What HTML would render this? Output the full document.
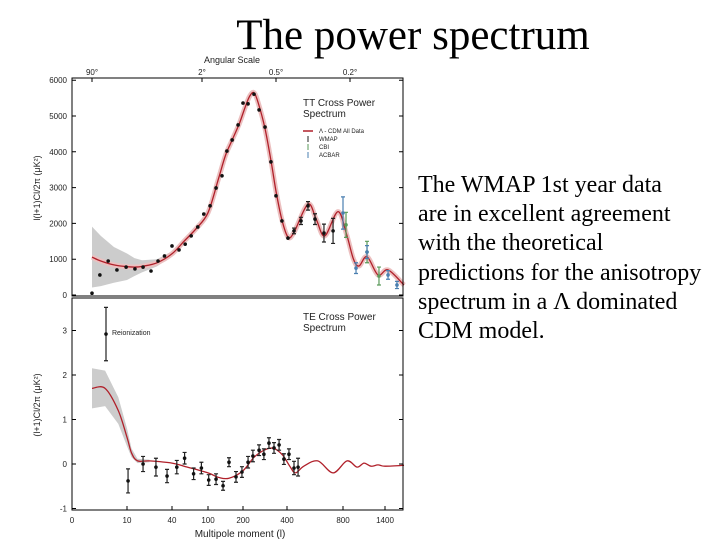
<!DOCTYPE html>
<html><head><meta charset="utf-8">
<style>
html,body{margin:0;padding:0;background:#fff;}
body{width:720px;height:540px;position:relative;overflow:hidden;font-family:"Liberation Serif",serif;}
#title{position:absolute;left:0;width:826px;top:10px;text-align:center;font-size:43px;line-height:52px;color:#000;}
#desc{position:absolute;left:418px;top:171px;font-size:24px;line-height:29.2px;color:#000;white-space:nowrap;}
svg{position:absolute;left:0;top:0;}
svg text{font-family:"Liberation Sans",sans-serif;}
</style></head><body>
<div id="title">The power spectrum</div>
<div id="desc">The WMAP 1st year data<br>are in excellent agreement<br>with the theoretical<br>predictions for the anisotropy<br>spectrum in a Λ dominated<br>CDM model.</div>
<svg id="chart" width="720" height="540"></svg>
<script>
// x-axis knots (multipole l) shared by both panels
const lKnots=[0,2,10,40,100,200,400,800,1400,1600];
const xTicks=[0,10,40,100,200,400,800,1400];
const angTicks=['90°','2°','0.5°','0.2°'];
const angL=[2,90,350,900];
// TT panel
const ttTicks=[0,1000,2000,3000,4000,5000,6000];
const ttModelL=[2,4,7,10,15,20,30,40,60,80,100,130,150,170,190,210,230,250,270,300,330,350,377,407,450,550,610,670,764,850,950,1029,1143,1300,1432,1600];
const ttModelV=[1060,950,840,790,780,800,900,1150,1500,1850,2300,3250,3900,4350,4800,5250,5550,5650,5350,4650,3650,2900,2100,1620,1750,2540,2100,1650,2330,1700,1000,810,1070,560,700,280];
const ttBandL=[2,4,7,10,15,20,30,40,60];
const ttBandE=[850,700,500,370,250,170,100,70,50];
const wmapL=[2,3.8,5.7,7.7,9.8,15.3,20.7,26,30.7,35,40,51.7,62,72,83,93,106,123,140,154,169,186,200,223,250,273,300,327,350,377,407,450,500,550,600,664,729];
const wmapV=[50,560,950,700,780,730,780,670,950,1090,1370,1260,1420,1650,1900,2260,2490,2990,3330,4020,4330,4750,5360,5340,5610,5170,4690,3720,2770,2070,1590,1790,2070,2490,2120,1730,1790];
const wmapE=[0,0,0,0,0,0,0,0,0,0,0,0,0,0,0,0,0,0,0,0,0,0,0,0,0,0,0,0,0,0,0,80,100,120,150,250,350];
const cbiL=[843,1143,1314];
const cbiV=[1960,1200,530];
const cbiE=[350,300,250];
const acbarL=[800,986,1143,1432,1526];
const acbarV=[2290,750,1200,560,280];
const acbarE=[450,150,180,120,100];
// TE panel
const teTicks=[-1,0,1,2,3];
const teModelL=[2,5,8,10,13,17,25,40,60,100,130,160,200,250,300,340,380,420,460,520,620,729,857,1000,1100,1200,1300,1400,1600];
const teModelV=[1.7,1.7,1.2,0.6,0.25,0.07,0.07,0.02,-0.05,-0.2,-0.3,-0.32,-0.15,0.15,0.32,0.35,0.2,-0.05,-0.2,-0.05,0.07,-0.2,0.07,-0.07,0.02,-0.05,-0.02,-0.05,-0.03];
const teBandL=[2,5,8,10,13,17,25];
const teBandE=[0.45,0.4,0.3,0.2,0.1,0.05,0.03];
const teL=[10.7,20.7,29.3,36.7,48,61,76,89,102,123,143,160,180,197,223,245,273,295,318,341,364,386,414,450,479];
const teV=[-0.38,0,-0.07,-0.27,-0.07,0.13,-0.22,-0.09,-0.36,-0.34,-0.49,0.04,-0.29,-0.18,0.04,0.18,0.31,0.22,0.47,0.36,0.43,0.11,0.22,-0.09,-0.07];
const teE=[0.27,0.17,0.2,0.15,0.15,0.13,0.13,0.13,0.12,0.12,0.1,0.1,0.12,0.12,0.13,0.13,0.12,0.12,0.12,0.12,0.12,0.12,0.12,0.15,0.2];
const reionL=[5.2];
const reionV=[2.92];
const reionE=[0.6];

const xPx=[72,92,127,172,208,243,287,343,385,404];
function X(l){for(let i=1;i<lKnots.length;i++){if(l<=lKnots[i]){const t=(l-lKnots[i-1])/(lKnots[i]-lKnots[i-1]);return xPx[i-1]+t*(xPx[i]-xPx[i-1]);}}return xPx[xPx.length-1];}
function YT(v){return 295-v*0.0358;}
function YE(v){return 464-v*44.5;}
const svg=document.getElementById('chart');
const NS='http://www.w3.org/2000/svg';
function mk(tag,attrs,parent){const e=document.createElementNS(NS,tag);for(const k in attrs)e.setAttribute(k,attrs[k]);(parent||svg).appendChild(e);return e;}
function txt(x,y,s,size,anchor,fill){const t=mk('text',{x:x,y:y,'font-size':size,'text-anchor':anchor||'start',fill:fill||'#222'});t.textContent=s;return t;}
function smooth(P){let d='M'+P[0][0].toFixed(1)+','+P[0][1].toFixed(1);for(let i=0;i<P.length-1;i++){const p0=P[Math.max(0,i-1)],p1=P[i],p2=P[i+1],p3=P[Math.min(P.length-1,i+2)];const c1=[p1[0]+(p2[0]-p0[0])/6,p1[1]+(p2[1]-p0[1])/6],c2=[p2[0]-(p3[0]-p1[0])/6,p2[1]-(p3[1]-p1[1])/6];d+=` C${c1[0].toFixed(1)},${c1[1].toFixed(1)} ${c2[0].toFixed(1)},${c2[1].toFixed(1)} ${p2[0].toFixed(1)},${p2[1].toFixed(1)}`;}return d;}
function pathOf(L,V,Y){return smooth(L.map((l,i)=>[X(l),Y(V[i])]));}
function band(L,C,E,Y){const up=L.map((l,i)=>X(l).toFixed(1)+','+Y(C(l)+E[i]).toFixed(1));const dn=L.map((l,i)=>X(l).toFixed(1)+','+Y(C(l)-E[i]).toFixed(1)).reverse();return 'M'+up.join(' L')+' L'+dn.join(' L')+'Z';}
function interp(LL,VV){return l=>{for(let i=1;i<LL.length;i++)if(l<=LL[i]){const t=(l-LL[i-1])/(LL[i]-LL[i-1]);return VV[i-1]+t*(VV[i]-VV[i-1]);}return VV[VV.length-1];};}

// TT panel
const gT=mk('g',{});


const bT=mk('path',{d:band(ttBandL,interp(ttModelL,ttModelV),ttBandE,YT),fill:'#ccc'},gT);


const rT=mk('path',{d:pathOf(ttModelL,ttModelV,YT),fill:'none',stroke:'#ecc0c0','stroke-width':5},gT);


const mT=mk('path',{d:pathOf(ttModelL,ttModelV,YT),fill:'none',stroke:'#b0202a','stroke-width':1.3},gT);


function pts(L,V,E,Y,col,g,name){L.forEach((l,i)=>{const x=X(l),y=Y(V[i]);if(E[i]>0){const eb=mk('path',{d:`M${x},${Y(V[i]+E[i])} V${Y(V[i]-E[i])} M${x-2},${Y(V[i]+E[i])} h4 M${x-2},${Y(V[i]-E[i])} h4`,stroke:col,'stroke-width':1.2,fill:'none'},g);}const c=mk('circle',{cx:x,cy:y,r:1.8,fill:col==='#4a7fb0'||col==='#5a9a5a'?col:'#111'},g);});}
pts(wmapL,wmapV,wmapE,YT,'#222',gT,'wmap');
pts(cbiL,cbiV,cbiE,YT,'#5a9a5a',gT,'cbi');
pts(acbarL,acbarV,acbarE,YT,'#4a7fb0',gT,'acbar');
const fT=mk('rect',{x:72,y:78,width:331,height:218,fill:'none',stroke:'#000','stroke-width':1},gT);


ttTicks.forEach(v=>{const y=YT(v);mk('path',{d:`M72,${y}h4 M403,${y}h-4`,stroke:'#000'},gT);const t=txt(67,y+3,String(v),8,'end');});
angTicks.forEach((s,i)=>{const x=X(angL[i]);mk('path',{d:`M${x},78v4`,stroke:'#000'},gT);const t=txt(x,75,s,8,'middle');});
let a=txt(232,63,'Angular Scale',9,'middle');
a=txt(0,0,'l(l+1)Cl/2π (μK²)',9,'middle');a.setAttribute('transform','translate(40,188) rotate(-90)');
a=txt(303,106,'TT Cross Power',10);
txt(303,117,'Spectrum',10);
const lg=mk('g',{});


mk('path',{d:'M303,131h10',stroke:'#b0202a','stroke-width':1.5},lg);
const lgl=[['Λ - CDM All Data','#b0202a'],['WMAP','#222'],['CBI','#5a9a5a'],['ACBAR','#4a7fb0']];
lgl.forEach((p,i)=>{const y=133+i*8;if(i>0)mk('path',{d:`M308,${y-5}v6`,stroke:p[1]},lg);const t=txt(319,y,p[0],6);lg.appendChild(t);});

// TE panel
const gE=mk('g',{});


const bE=mk('path',{d:band(teBandL,interp(teModelL,teModelV),teBandE,YE),fill:'#ccc'},gE);


const mE=mk('path',{d:pathOf(teModelL,teModelV,YE),fill:'none',stroke:'#b0202a','stroke-width':1.3},gE);


pts(teL,teV,teE,YE,'#222',gE,'te');
pts(reionL,reionV,reionE,YE,'#222',gE,'reionization');
a=txt(112,335,'Reionization',7);
const fE=mk('rect',{x:72,y:298,width:331,height:212,fill:'none',stroke:'#000','stroke-width':1},gE);


teTicks.forEach(v=>{const y=YE(v);mk('path',{d:`M72,${y}h4 M403,${y}h-4`,stroke:'#000'},gE);const t=txt(67,y+3,String(v),8,'end');});
xTicks.forEach(l=>{const x=X(l);mk('path',{d:`M${x},510v-4`,stroke:'#000'},gE);const t=txt(x,523,String(l),8,'middle');});
a=txt(0,0,'(l+1)Cl/2π (μK²)',9,'middle');a.setAttribute('transform','translate(40,405) rotate(-90)');
a=txt(303,320,'TE Cross Power',10);
txt(303,331,'Spectrum',10);
a=txt(240,537,'Multipole moment (l)',10,'middle');
</script>
</body></html>
